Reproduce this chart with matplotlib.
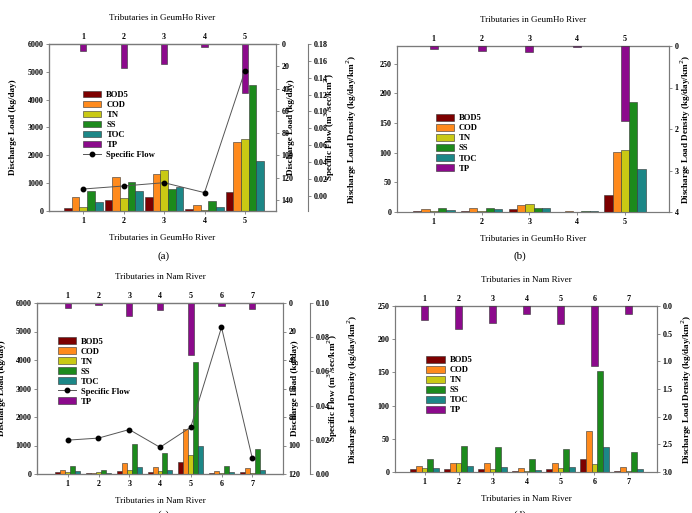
import matplotlib
matplotlib.use("Agg")
import matplotlib.pyplot as plt
import numpy as np
from matplotlib.patches import Patch
from matplotlib.lines import Line2D

plt.rcParams["font.family"] = ["Liberation Serif", "DejaVu Serif"]

W, H = 692, 513

POLLUTANTS = ["BOD5", "COD", "TN", "SS", "TOC"]
COLORS = ["#7d0000", "#ff8a1c", "#c9c914", "#1c8a1c", "#1c8787"]
TP_COLOR = "#8c0a8c"
SPINE = "#7a7a7a"

GEUMHO_TITLE = "Tributaries in GeumHo River"
NAM_TITLE = "Tributaries in Nam River"

# (a) GeumHo discharge load (kg/day)
geumho_load = {
    "BOD5": [120, 400, 490, 70, 695],
    "COD": [500, 1220, 1330, 200, 2465],
    "TN": [150, 470, 1470, 30, 2575],
    "SS": [705, 1050, 800, 350, 4515],
    "TOC": [335, 730, 870, 140, 1785],
}
geumho_tp_load = [6.6, 22, 17.6, 2.7, 44]
geumho_flow = [0.0079, 0.0115, 0.0154, 0.0036, 0.148]

# (b) GeumHo discharge load density (kg/day/km2)
geumho_density = {
    "BOD5": [1.5, 2.5, 5, 0.5, 28],
    "COD": [5, 7, 11.7, 2, 101],
    "TN": [1.5, 2.5, 13, 0.3, 105],
    "SS": [7, 6, 7, 2.5, 185],
    "TOC": [3.5, 4.5, 7.5, 1.5, 73],
}
geumho_tp_density = [0.064, 0.12, 0.15, 0.016, 1.8]

# (c) Nam discharge load (kg/day)
nam_load = {
    "BOD5": [80, 20, 117, 80, 432, 40, 70],
    "COD": [128, 50, 397, 245, 1564, 117, 198],
    "TN": [80, 60, 130, 100, 653, 30, 30],
    "SS": [268, 140, 1050, 735, 3930, 292, 875],
    "TOC": [90, 40, 245, 152, 992, 80, 150],
}
nam_tp_load = [3.5, 1.2, 8.9, 4.7, 36.4, 1.9, 4.2]
nam_flow = [0.0198, 0.021, 0.026, 0.0156, 0.0274, 0.0858, 0.0093]

# (d) Nam discharge load density (kg/day/km2)
nam_density = {
    "BOD5": [5, 4, 4, 2, 4, 19, 2],
    "COD": [9, 13.5, 14, 6, 14, 62, 7],
    "TN": [6, 13, 4, 2, 6, 12, 1],
    "SS": [19, 39.5, 37, 20, 35, 152, 29.5],
    "TOC": [6, 9, 8, 3, 8, 37, 4],
}
nam_tp_density = [0.26, 0.42, 0.31, 0.14, 0.32, 1.09, 0.15]

TICK_FS = 5.8
LABEL_FS = 6.6
LEG_FS = 6.2


def add_axes(left, top, right, bottom):
    return fig.add_axes([left / W, 1 - bottom / H, (right - left) / W, (bottom - top) / H])


def style_spines(ax):
    for s in ax.spines.values():
        s.set_color(SPINE)
        s.set_linewidth(0.8)


def place_ylabel(ax, text, x):
    ax.set_ylabel(text, fontsize=LABEL_FS, fontweight="bold")
    ax.yaxis.label.set_va("center")
    ax.yaxis.set_label_coords(x, 0.5)


def panel(ax, data, tp, flow, title, bar_w, tp_w, xlim, ylim, yticks, tp_lim, tp_ticks,
          tp_fmt, ylabel, tp_label, tp_label_x, ylabel_x, legend_xy, flow_cfg=None,
          flow_first=False):
    n = len(tp)
    x = np.arange(1, n + 1)
    offs = (np.arange(len(POLLUTANTS)) - 2) * bar_w
    for name, c, o in zip(POLLUTANTS, COLORS, offs):
        ax.bar(x + o, data[name], bar_w, color=c, edgecolor="#333333", linewidth=0.4, zorder=3)
    ax.set_xlim(*xlim)
    ax.set_ylim(*ylim)
    ax.set_yticks(yticks)
    ax.set_xticks(x)
    ax.set_xticklabels([str(i) for i in x])
    ax.tick_params(axis="both", labelsize=TICK_FS, length=2, width=0.6, color=SPINE, pad=2)
    for lab in ax.get_xticklabels() + ax.get_yticklabels():
        lab.set_fontweight("bold")
    place_ylabel(ax, ylabel, ylabel_x)
    ax.set_xlabel(title, fontsize=6.5)
    ax.xaxis.labelpad = 7
    style_spines(ax)

    top = ax.secondary_xaxis("top")
    top.set_xticks(x)
    top.set_xticklabels([str(i) for i in x], fontsize=TICK_FS, fontweight="bold")
    top.tick_params(length=0, pad=2)
    top.spines["top"].set_color(SPINE)
    h_px = ax.get_position().height * H
    ax.text(0.5, 1 + 26 / h_px, title, transform=ax.transAxes, ha="center", va="center",
            fontsize=6.5)

    ax_tp = ax.twinx()
    ax_tp.bar(x, tp, tp_w, color=TP_COLOR, edgecolor="#333333", linewidth=0.4, zorder=3)
    ax_tp.set_ylim(*tp_lim)
    ax_tp.set_yticks(tp_ticks)
    ax_tp.set_yticklabels([tp_fmt.format(t) for t in tp_ticks], fontsize=TICK_FS,
                          fontweight="bold")
    ax_tp.tick_params(axis="y", length=2, width=0.6, color=SPINE, pad=2)
    place_ylabel(ax_tp, tp_label, tp_label_x)
    style_spines(ax_tp)

    handles = [Patch(facecolor=c, edgecolor="#333333", linewidth=0.4, label=p)
               for p, c in zip(POLLUTANTS, COLORS)]
    tp_handle = Patch(facecolor=TP_COLOR, edgecolor="#333333", linewidth=0.4, label="TP")

    if flow_cfg is not None:
        ax_sf = ax.twinx()
        ax_sf.spines["right"].set_position(("axes", flow_cfg["spine"]))
        ax_sf.plot(x, flow, color="#555555", linewidth=0.7, marker="o", markersize=3.2,
                   markerfacecolor="black", markeredgecolor="black", zorder=4)
        ax_sf.set_ylim(*flow_cfg["ylim"])
        ax_sf.set_yticks(flow_cfg["ticks"])
        ax_sf.set_yticklabels([f"{t:.2f}" for t in flow_cfg["ticks"]], fontsize=TICK_FS,
                              fontweight="bold")
        ax_sf.tick_params(axis="y", length=2, width=0.6, color=SPINE, pad=2)
        place_ylabel(ax_sf, "Specific Flow (m$^3$/sec/km$^2$)", flow_cfg["label_x"])
        style_spines(ax_sf)
        sf_handle = Line2D([], [], color="#555555", linewidth=0.7, marker="o", markersize=3.2,
                           markerfacecolor="black", markeredgecolor="black",
                           label="Specific Flow")
        if flow_first:
            handles += [sf_handle, tp_handle]
        else:
            handles += [tp_handle, sf_handle]
    else:
        handles += [tp_handle]

    leg = ax.legend(handles=handles, loc="upper left", bbox_to_anchor=legend_xy,
                    frameon=False, prop={"size": LEG_FS, "weight": "bold"},
                    handlelength=2.1, handleheight=0.8, labelspacing=0.2,
                    handletextpad=0.6, borderaxespad=0)
    leg.set_zorder(10)


fig = plt.figure(figsize=(W / 100, H / 100), dpi=100, facecolor="white")

# (a)
ax_a = add_axes(49, 44, 276, 211)
panel(ax_a, geumho_load, geumho_tp_load, geumho_flow, GEUMHO_TITLE, 0.19, 0.15,
      (0.15, 5.77), (0, 6000), np.arange(0, 6001, 1000), (150, 0), np.arange(0, 141, 20),
      "{:.0f}", "Discharge Load (kg/day)", "Discharge Load (kg/day)", 1.066, -0.158,
      (0.135, 0.74),
      flow_cfg={"spine": 1.141, "ylim": (-0.0182, 0.18), "ticks": np.arange(0, 0.181, 0.02),
                "label_x": 1.238})

# (b)
ax_b = add_axes(397, 46, 669, 212)
panel(ax_b, geumho_density, geumho_tp_density, None, GEUMHO_TITLE, 0.174, 0.17,
      (0.23, 5.92), (0, 280), np.arange(0, 251, 50), (4, 0), np.arange(0, 5, 1),
      "{:.0f}", "Discharge Load Density (kg/day/km$^2$)",
      "Discharge Load Density (kg/day/km$^2$)", 1.063, -0.165, (0.13, 0.61))

# (c)
ax_c = add_axes(37, 303, 283, 474)
panel(ax_c, nam_load, nam_tp_load, nam_flow, NAM_TITLE, 0.16, 0.2,
      (0, 8), (0, 6000), np.arange(0, 6001, 1000), (120, 0), np.arange(0, 121, 20),
      "{:.0f}", "Discharge Load (kg/day)", "Discharge Load (kg/day)", 1.049, -0.142,
      (0.07, 0.82),
      flow_cfg={"spine": 1.11, "ylim": (0, 0.10), "ticks": np.arange(0, 0.101, 0.02),
                "label_x": 1.203},
      flow_first=True)

# (d)
ax_d = add_axes(395, 306, 657, 472)
panel(ax_d, nam_density, nam_tp_density, None, NAM_TITLE, 0.17, 0.21,
      (0.13, 7.84), (0, 250), np.arange(0, 251, 50), (3.0, 0), np.arange(0, 3.01, 0.5),
      "{:.1f}", "Discharge Load Density (kg/day/km$^2$)",
      "Discharge Load Density (kg/day/km$^2$)", 1.113, -0.16, (0.107, 0.72))

for lab, px, py in [("(a)", 164, 256), ("(b)", 520, 256), ("(c)", 164, 515), ("(d)", 520, 515)]:
    fig.text(px / W, 1 - py / H, lab, ha="center", va="center", fontsize=8)

fig.savefig("out.png", dpi=100, facecolor="white")
